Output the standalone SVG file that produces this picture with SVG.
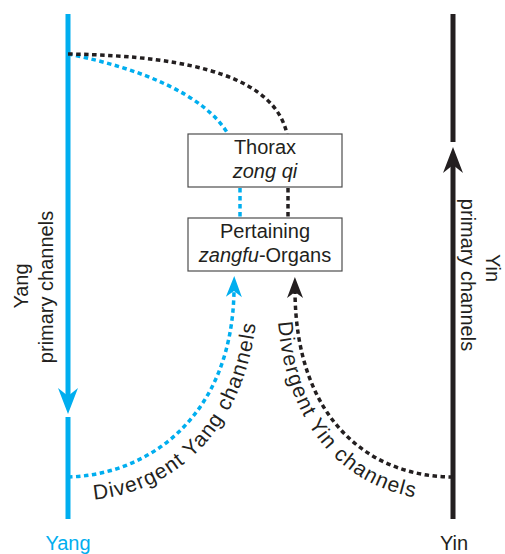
<svg xmlns="http://www.w3.org/2000/svg" width="505" height="554" viewBox="0 0 505 554">
<style>
text{font-family:"Liberation Sans",Arial,sans-serif;font-size:20px;fill:#231F20}
.it{font-style:italic}
.curv{font-size:21px;letter-spacing:1.2px}
.box{fill:#fff;stroke:#4d4d4d;stroke-width:1.2}
.yang{stroke:#00AEEF;stroke-width:5;fill:none}
.yin{stroke:#231F20;stroke-width:5;fill:none}
.dy{stroke:#00AEEF;stroke-width:3.5;fill:none;stroke-dasharray:4.5 3.5}
.dk{stroke:#231F20;stroke-width:3.5;fill:none;stroke-dasharray:4.5 3.5}
</style>
<defs>
<marker id="bigB" markerUnits="userSpaceOnUse" markerWidth="40" markerHeight="30" viewBox="-10 -15 40 30" refX="0" refY="0" orient="auto"><path d="M18,0 L-8,-10 L0,0 L-8,10 Z" fill="#00AEEF"/></marker>
<marker id="bigK" markerUnits="userSpaceOnUse" markerWidth="40" markerHeight="30" viewBox="-10 -15 40 30" refX="0" refY="0" orient="auto"><path d="M18,0 L-8,-10 L0,0 L-8,10 Z" fill="#231F20"/></marker>
<marker id="smB" markerUnits="userSpaceOnUse" markerWidth="30" markerHeight="24" viewBox="-10 -12 30 24" refX="0" refY="0" orient="auto"><path d="M15,0 L-6,-8 L0,0 L-6,8 Z" fill="#00AEEF"/></marker>
<marker id="smK" markerUnits="userSpaceOnUse" markerWidth="30" markerHeight="24" viewBox="-10 -12 30 24" refX="0" refY="0" orient="auto"><path d="M15,0 L-6,-8 L0,0 L-6,8 Z" fill="#231F20"/></marker>
<path id="tpYang" d="M85,500 C175,497 256,425 258,290"/>
<path id="tpYin" d="M277,300 C279,432 352,497 440,500"/>
</defs>

<g id="connectors">
<path class="yang" d="M68,14 L68,396" marker-end="url(#bigB)"/>
<path class="yang" d="M68,417 L68,519"/>
<path class="yin" d="M453,519 L453,165" marker-end="url(#bigK)"/>
<path class="yin" d="M453,14 L453,142"/>
<path class="dy" d="M68,54 C140,68 205,95 228,134"/>
<path class="dk" d="M68,54 C200,56 275,80 287,134"/>
<path class="dy" d="M240,188 L240,218"/>
<path class="dk" d="M288,188 L288,218"/>
<path class="dy" d="M68,477 C150,475 232,415 234,291" marker-end="url(#smB)"/>
<path class="dk" d="M453,477 C370,477 296,420 295,292" marker-end="url(#smK)"/>
</g>

<g id="thorax">
<rect class="box" x="188" y="134" width="154" height="53"/>
<text x="265" y="154" text-anchor="middle">Thorax</text>
<text class="it" x="265" y="178" text-anchor="middle">zong qi</text>
</g>
<g id="organs">
<rect class="box" x="188" y="218" width="154" height="53"/>
<text x="265" y="238" text-anchor="middle">Pertaining</text>
<text x="265" y="262" text-anchor="middle"><tspan class="it">zangfu</tspan>-Organs</text>
</g>

<g id="yang-label">
<text transform="translate(28,286) rotate(-90)" text-anchor="middle">Yang</text>
<text transform="translate(53,287) rotate(-90)" text-anchor="middle">primary channels</text>
<text x="68" y="550" text-anchor="middle" style="fill:#00AEEF">Yang</text>
</g>
<g id="yin-label">
<text transform="translate(486,268) rotate(90)" text-anchor="middle">Yin</text>
<text transform="translate(461,275) rotate(90)" text-anchor="middle">primary channels</text>
<text x="454" y="550" text-anchor="middle">Yin</text>
</g>

<g id="divergent-labels">
<text class="curv"><textPath href="#tpYang" startOffset="9">Divergent Yang channels</textPath></text>
<text class="curv"><textPath href="#tpYin" startOffset="22">Divergent Yin channels</textPath></text>
</g>
</svg>
